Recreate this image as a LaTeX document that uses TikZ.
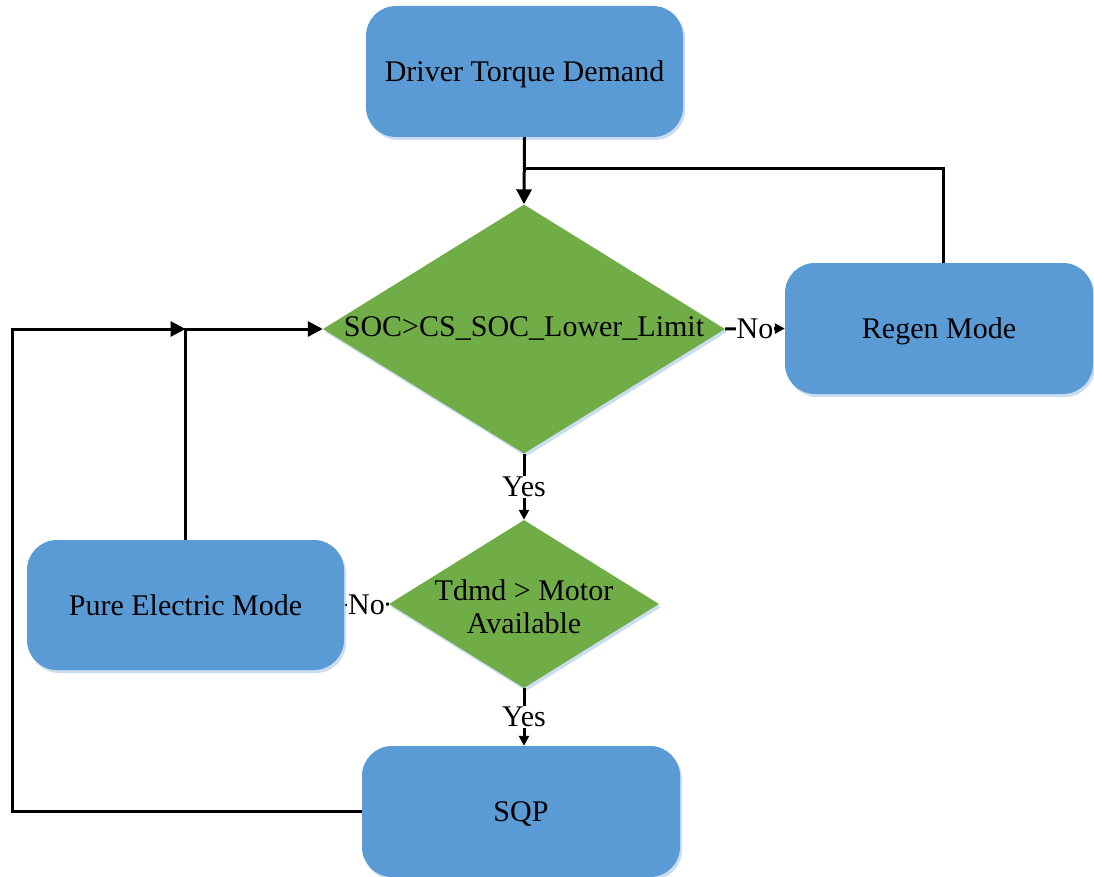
\documentclass[tikz,border=0pt]{standalone}
\usepackage{fontspec}
\setmainfont{Liberation Serif}
\usetikzlibrary{arrows.meta,shapes.geometric,shadows}
\definecolor{boxblue}{HTML}{5B9BD5}
\definecolor{decgreen}{HTML}{70AD47}
\definecolor{edgeblue}{HTML}{CADDF1}
\begin{document}
\begin{tikzpicture}[x=1pt,y=-1pt,
  txt/.style={font=\fontsize{30}{34}\selectfont},
  softedge/.style={drop shadow={shadow xshift=2pt,shadow yshift=-3pt,fill=edgeblue,opacity=1}},
  process/.style={txt,rectangle,rounded corners=30pt,fill=boxblue,draw=none,
    inner sep=0pt,text height=20.5pt,text depth=0pt,softedge},
  decision/.style={txt,diamond,fill=decgreen,draw=none,inner sep=0pt,softedge},
  link/.style={line width=3pt},
  flow/.style={link,-{Triangle[length=15pt,width=15pt]}},
  flowsmall/.style={link,-{Triangle[length=10pt,width=10pt]}},
  lab/.style={txt,fill=white,inner sep=1pt}]
\useasboundingbox (0,0) rectangle (1094,877);

% process boxes
\node[process,minimum width=317pt,minimum height=131pt] (top) at (524.5,71.5) {Driver Torque Demand};
\node[process,minimum width=308pt,minimum height=131pt] (regen) at (939,328.5) {Regen Mode};
\node[process,minimum width=317pt,minimum height=130pt] (pure) at (185.5,605) {Pure Electric Mode};
\node[process,minimum width=318pt,minimum height=131pt] (sqp) at (521,811.5) {SQP};

% decisions
\node[decision,minimum width=402pt,minimum height=249pt] (d1) at (524,329)
  {\makebox[0pt]{SOC>CS\_SOC\_Lower\_Limit}};
\node[decision,minimum width=270pt,minimum height=168pt] (d2) at (524,604)
  {\makebox[0pt]{\raisebox{-12pt}[0pt][0pt]{\begin{tabular}{@{}c@{}}Tdmd > Motor\\[-1pt] Available\end{tabular}}}};

% junction points of the feedback lines
\coordinate (jtop) at (524,169);
\coordinate (jleft) at (12,329);

% main flow
\draw[flow] (top.south) -- (d1.north);
\draw[flowsmall] (d1.east) -- node[lab] {No} (regen.west);
\draw[flowsmall] (d1.south) -- node[lab] {Yes} (d2.north);
\draw[flowsmall] (d2.west) -- node[lab] {No} (pure.east);
\draw[flowsmall] (d2.south) -- node[lab] {Yes} (d2.south |- sqp.north);

% feedback loops
\draw[link] ([xshift=4pt]regen.north) |- (jtop);
\draw[flow] (pure.north) |- (d1.west);
\draw[flow] (sqp.west) -| (jleft) -- (pure.north |- d1.west);
\end{tikzpicture}
\end{document}
